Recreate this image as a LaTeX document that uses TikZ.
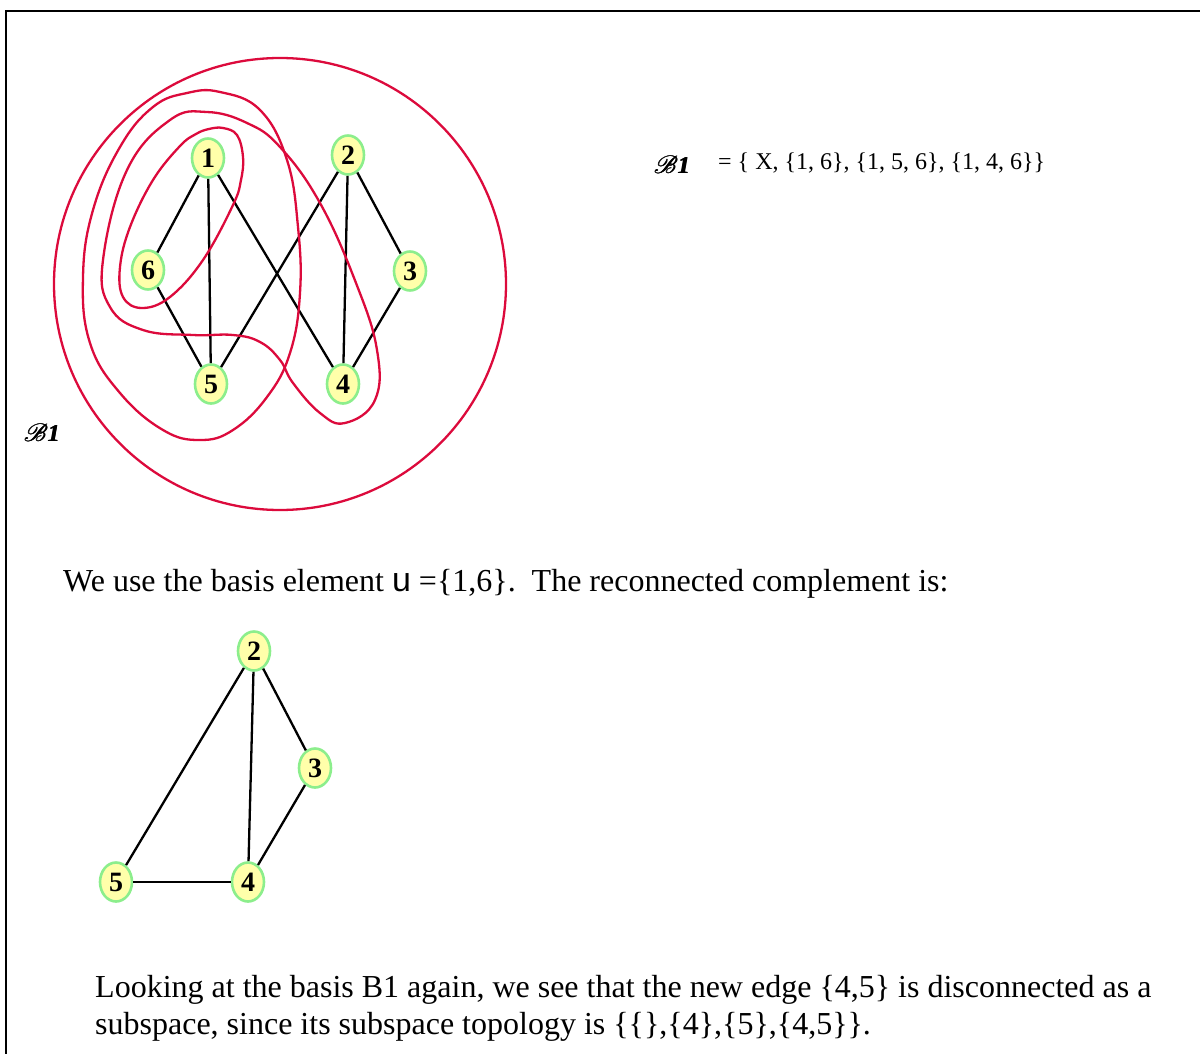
\documentclass[tikz,border=0pt]{standalone}
\usepackage{fontspec}
\setmainfont{Liberation Serif}
\setsansfont{Liberation Sans}
\usepackage{mathrsfs}
\usetikzlibrary{shapes.geometric}
\definecolor{vfill}{HTML}{FFFFAA}
\definecolor{vline}{HTML}{8CEE8C}
\definecolor{loopred}{HTML}{DC0A3C}
\newcommand{\heavy}[1]{\rlap{#1}\hspace{0.45pt}\rlap{#1}\hspace{0.45pt}#1}
\newcommand{\basisname}{\heavy{$\mathscr{B}$\textit{\bfseries 1}}}

\begin{document}
\begin{tikzpicture}[x=1pt,y=-1pt,
  vtx/.style={ellipse,draw=vline,fill=vfill,line width=2.6pt,minimum width=32pt,minimum height=39pt,inner sep=0pt,font=\fontsize{28}{28}\selectfont\bfseries},
  edge/.style={line width=2.3pt},
  loopline/.style={loopred,line width=2.3pt},
  txt/.style={inner sep=0pt,font=\fontsize{32}{37}\selectfont}]
  \useasboundingbox (0,0) rectangle (1200,1054);
  \draw[line width=2pt] (6,1054) -- (6,11) -- (1200,11);

  % the graph X with its basis B1
  \node[vtx] (t1) at (208,158) {1};
  \node[vtx] (t2) at (348,155) {2};
  \node[vtx] (t3) at (410,271) {3};
  \node[vtx] (t4) at (343,384) {4};
  \node[vtx] (t5) at (211,384) {5};
  \node[vtx] (t6) at (148,270) {6};
  \foreach \a/\b in {t1/t6,t1/t5,t1/t4,t2/t5,t2/t4,t2/t3,t3/t4,t6/t5}
    \draw[edge] (\a) -- (\b);

  \draw[loopline] (280,284) circle[radius=226pt];
  \draw[loopline] plot[smooth cycle,tension=0.65] coordinates {(223,128) (237,135) (243,157) (241,180) (233,205) (203,260) (170,297) (142,308) (123,297) (120,267) (130,227) (153,180) (180,146) (196,134) (209,129)};
  \draw[loopline] plot[smooth cycle,tension=0.7] coordinates {(220,92) (260,110) (287,160) (298,227) (300,293) (290,353) (267,397) (233,430) (200,440) (163,430) (120,393) (90,343) (83,277) (93,210) (120,147) (153,107) (187,93)};
  \draw[loopline] plot[smooth cycle,tension=0.7] coordinates {(207,112) (247,123) (280,147) (320,203) (356,283) (377,350) (375,400) (345,423) (320,413) (293,383) (280,360) (260,342) (233,335) (193,335) (143,330) (110,307) (103,260) (127,170) (170,120)};

  \node[inner sep=0pt,font=\fontsize{24}{24}\selectfont] (lblB) at (42,433) {\basisname};
  \node[inner sep=0pt,font=\fontsize{24}{24}\selectfont] (eqB) at (672,165) {\basisname};
  \node[inner sep=0pt,anchor=west,font=\fontsize{24}{24}\selectfont] (eqset) at (718,163) {= \{ X, \{1, 6\}, \{1, 5, 6\}, \{1, 4, 6\}\}};

  \node[txt,anchor=west] (line1) at (63,584) {We use the basis element {\sffamily\fontsize{34}{34}\selectfont u} =\{1,6\}.\ \ The reconnected complement is:};

  % the reconnected complement
  \node[vtx] (b2) at (254,651) {2};
  \node[vtx] (b3) at (315,768) {3};
  \node[vtx] (b4) at (248,882) {4};
  \node[vtx] (b5) at (116,882) {5};
  \foreach \a/\b in {b2/b5,b2/b4,b2/b3,b3/b4,b5/b4}
    \draw[edge] (\a) -- (\b);

  \node[txt,anchor=north west,align=left] (line2) at (95,975) {Looking at the basis B1 again, we see that the new edge \{4,5\} is disconnected as a\\
    subspace, since its subspace topology is \{\{\},\{4\},\{5\},\{4,5\}\}.};
\end{tikzpicture}
\end{document}
